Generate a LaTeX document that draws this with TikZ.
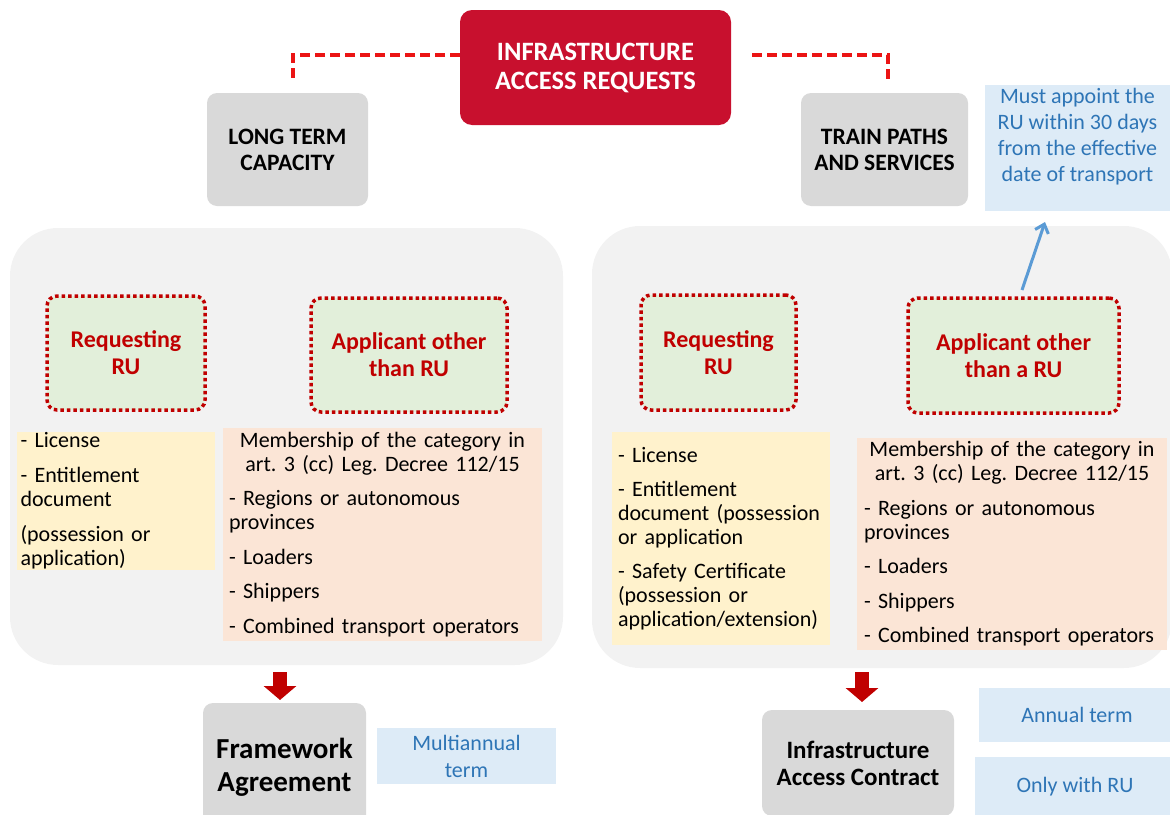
\documentclass[tikz,border=0pt]{standalone}
\usepackage{fontspec}
\setmainfont{Carlito}
\usetikzlibrary{arrows.meta,calc}
\definecolor{topred}{RGB}{200,16,46}
\definecolor{graybox}{RGB}{217,217,217}
\definecolor{panelgray}{RGB}{242,242,242}
\definecolor{greenfill}{RGB}{226,239,218}
\definecolor{darkred}{RGB}{192,0,0}
\definecolor{yellowfill}{RGB}{255,242,204}
\definecolor{orangefill}{RGB}{251,229,214}
\definecolor{bluefill}{RGB}{221,235,247}
\definecolor{bluetext}{RGB}{46,117,182}
\definecolor{bluearrow}{RGB}{91,155,213}
\definecolor{dashred}{RGB}{235,20,20}
\newcommand\fsz[2]{\fontsize{#1}{#2}\selectfont}
\frenchspacing
\begin{document}
\begin{tikzpicture}[x=1pt,y=-1pt,
 every node/.style={inner sep=0pt,outer sep=0pt},
 topbox/.style={fill=topred,rounded corners=12pt,text=white,align=center,font=\fsz{26.5}{29}\bfseries},
 capbox/.style={fill=graybox,rounded corners=10pt,align=center,font=\fsz{23.5}{26}\bfseries},
 resultbox/.style={fill=graybox,rounded corners=10pt,align=center},
 panelbox/.style={fill=panelgray,rounded corners=48pt},
 rolebox/.style={fill=greenfill,draw=darkred,line width=3.5pt,dash pattern=on 3.5pt off 3pt,rounded corners=10pt,text=darkred,align=center,font=\fsz{24}{27}\bfseries},
 reqbox/.style={align=left,font=\fsz{22}{24}\frenchspacing},
 notebox/.style={fill=bluefill},
 notetext/.style={text=bluetext,align=center,font=\fsz{22}{26}},
 reddash/.style={draw=dashred,line width=3.5pt,dash pattern=on 10pt off 5pt},
 redarrow/.style={draw=darkred,line width=14pt,-{Triangle[width=32pt,length=14pt]}},
 bluearr/.style={draw=bluearrow,line width=3pt,-{Straight Barb[length=8pt,width=14pt]}}
]
\useasboundingbox (0,0) rectangle (1170,814);
\clip (0,0) rectangle (1170,814);

% panels
\node[panelbox,minimum width=553pt,minimum height=437pt] (lp) at (286.5,446.5) {};
\node[panelbox,minimum width=580pt,minimum height=442pt] (rp) at (882,447) {};

% top
\node[topbox,minimum width=271pt,minimum height=115pt,text depth=3pt] (top) at (595.5,67.5) {INFRASTRUCTURE\\ACCESS REQUESTS};
\node[capbox,minimum width=161pt,minimum height=113pt] (ltc) at (287.5,149.5) {LONG TERM\\CAPACITY};
\node[capbox,minimum width=167pt,minimum height=113pt] (tps) at (884.5,149.5) {TRAIN PATHS\\AND SERVICES};

\node[notebox,minimum width=185pt,minimum height=126pt] (note) at (1077.5,148) {};
\node[notetext] (notetxt) at (1077.5,137) {Must appoint the\\RU within 30 days\\from the effective\\date of transport};

\draw[reddash] ($(top.west)+(0,-12.5)$) -| ($(ltc.north)+(5.5,-11)$);
\draw[reddash] ($(top.east)+(21,-12.5)$) -| ($(tps.north)+(3.5,-11)$);

% role boxes
\node[rolebox,minimum width=158pt,minimum height=114pt] (req1) at (126,353) {Requesting\\RU};
\node[rolebox,minimum width=196pt,minimum height=114pt] (app1) at (409,355) {Applicant other\\than RU};
\node[rolebox,minimum width=155pt,minimum height=115pt] (req2) at (718.5,352.5) {Requesting\\RU};
\node[rolebox,minimum width=211pt,minimum height=115pt] (app2) at (1013.5,355.5) {Applicant other\\than a RU};

\draw[bluearr] ($(app2.north)+(8.5,-8)$) -- ($(note.south)+(-32.5,11)$);

% requirement boxes
\node[reqbox,fill=yellowfill,inner xsep=3.5pt,text width=191pt,minimum height=138pt] (yel1) at (116,501)
 {- License\\[11pt]- Entitlement\\document\\[11pt](possession or\\application)};
\node[reqbox,fill=orangefill,inner xsep=6pt,text width=307pt,minimum height=213pt] (or1) at (382.5,534.5)
 {{\centering Membership of the category in\\art. 3 (cc) Leg. Decree 112/15\par}\vspace{10.5pt}- Regions or autonomous\\provinces\\[10.5pt]- Loaders\\[10.5pt]- Shippers\\[10.5pt]- Combined transport operators};
\node[reqbox,fill=yellowfill,inner xsep=6pt,text width=206pt,minimum height=213pt] (yel2) at (721,538.5)
 {- License\\[10pt]- Entitlement\\document (possession\\or application\\[10pt]- Safety Certificate\\(possession or\\application/extension)};
\node[reqbox,fill=orangefill,inner xsep=7pt,text width=296pt,minimum height=212pt] (or2) at (1012,544)
 {{\centering Membership of the category in\\art. 3 (cc) Leg. Decree 112/15\par}\vspace{10.5pt}- Regions or autonomous\\provinces\\[10.5pt]- Loaders\\[10.5pt]- Shippers\\[10.5pt]- Combined transport operators};

% results
\node[resultbox,font=\fsz{29}{33}\bfseries,minimum width=163pt,minimum height=128pt] (fa) at (284.5,767) {Framework\\Agreement};
\node[notebox,notetext,font=\fsz{22}{27},minimum width=179pt,minimum height=56pt] (multi) at (466.5,756) {Multiannual\\term};
\node[resultbox,font=\fsz{25}{27}\bfseries,minimum width=192pt,minimum height=106pt] (iac) at (858,763) {Infrastructure\\Access Contract};
\node[notebox,notetext,minimum width=196pt,minimum height=54pt] (annual) at (1077,715) {Annual term};
\node[notebox,notetext,minimum width=200pt,minimum height=60pt] (onlyru) at (1075,787) {Only with RU};

\draw[redarrow] ($(lp.south -| fa.north)+(-4.5,7)$) -- ($(fa.north)+(-4.5,-3)$);
\draw[redarrow] ($(rp.south -| iac.north)+(4,4)$) -- ($(iac.north)+(4,-8)$);
\end{tikzpicture}
\end{document}
